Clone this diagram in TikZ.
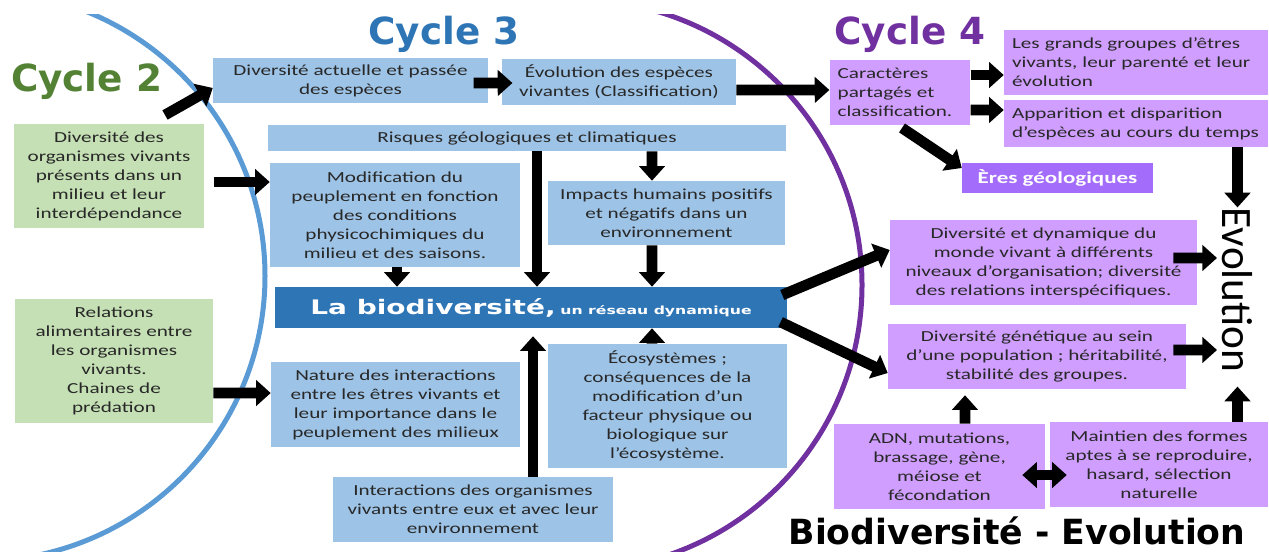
\documentclass[tikz,border=0pt]{standalone}
\usepackage{fontspec}
\setmainfont{Carlito}[FakeStretch=1.38]
\newfontfamily\titre{DejaVu Sans}
\newfontfamily\titrelarge{DejaVu Sans}[FakeStretch=1.4]
\newfontfamily\evolfont{Carlito}
\usepackage{tikz}
\usetikzlibrary{shapes,arrows,arrows.meta,positioning}
\definecolor{bleuclair}{RGB}{157,195,230}
\definecolor{bleufonce}{RGB}{46,117,182}
\definecolor{bleuarc}{RGB}{91,155,213}
\definecolor{vertclair}{RGB}{197,224,180}
\definecolor{vertfonce}{RGB}{84,130,53}
\definecolor{violetclair}{RGB}{207,158,255}
\definecolor{violetmoyen}{RGB}{163,108,250}
\definecolor{violetfonce}{RGB}{112,48,160}
\definecolor{texte}{RGB}{40,40,40}
\tikzstyle{boite} = [inner sep=0pt, align=center, text=texte, font=\fontsize{11.5}{14.25}\selectfont]
\tikzstyle{boitebleue} = [boite, fill=bleuclair]
\tikzstyle{boiteverte} = [boite, fill=vertclair]
\tikzstyle{boiteviolette} = [boite, fill=violetclair]
\tikzstyle{boitegauche} = [boiteviolette, align=left, inner xsep=6pt]
\tikzstyle{titrecycle} = [anchor=base, inner sep=0pt, font=\titre\bfseries\fontsize{28}{32}\selectfont]
\tikzstyle{fleche} = [line width=8pt, -{Triangle[length=11pt,width=19pt]}]
\tikzstyle{doublefleche} = [line width=8pt, {Triangle[length=11pt,width=19pt]}-{Triangle[length=11pt,width=19pt]}]

\begin{document}
\begin{tikzpicture}[x=0.75pt, y=-0.75pt]
					\useasboundingbox (0,0) rectangle (1269,552);
					\begin{scope}
						\clip (0,15) rectangle (1269,552);
						\draw[bleuarc, line width=3.75pt] (-20,276) circle (285);
					\end{scope}
					\begin{scope}
						\clip (577,15) rectangle (1269,552);
						\draw[violetfonce, line width=3.75pt] (577,285) circle (285);
					\end{scope}
					\node[titrecycle, text=vertfonce] (cycledeux) at (86.5,92) {Cycle 2};
					\node[titrecycle, text=bleufonce] (cycletrois) at (444,45) {Cycle 3};
					\node[titrecycle, text=violetfonce] (cyclequatre) at (910,45) {Cycle 4};
					\node[anchor=base, inner sep=0pt, font=\titre\bfseries\fontsize{26}{30}\selectfont] (bioevol) at (1017,544) {Biodiversité - Evolution};
					\node[rotate=-90, anchor=south, inner sep=0pt, font=\evolfont\fontsize{32.5}{34}\selectfont] (evol) at (1222,290) {Evolution};
					\node[boiteverte, minimum width=142.5pt, minimum height=78pt] (divorg) at (109,176) {Diversité des\\organismes vivants\\présents dans un\\milieu et leur\\interdépendance};
					\node[boiteverte, minimum width=148.5pt, minimum height=93pt] (relations) at (114,361) {Relations\\alimentaires entre\\les organismes\\vivants.\\Chaines de\\prédation};
					\node[boitebleue, minimum width=206.25pt, minimum height=33.75pt] (diversite) at (350.5,80.5) {Diversité actuelle et passée\\des espèces};
					\node[boitebleue, minimum width=175.5pt, minimum height=34.5pt] (evolution) at (619,82) {Évolution des espèces\\vivantes (Classification)};
					\node[boitebleue, minimum width=388.5pt, minimum height=19.5pt] (risques) at (527,138) {Risques géologiques et climatiques};
					\node[boitebleue, minimum width=187.5pt, minimum height=78pt] (modification) at (395,215) {Modification du\\peuplement en fonction\\des conditions\\physicochimiques du\\milieu et des saisons.};
					\node[boitebleue, minimum width=177.75pt, minimum height=48pt] (impacts) at (666.5,213) {Impacts humains positifs\\et négatifs dans un\\environnement};
					\node[boite, fill=bleufonce, text=white, minimum width=384pt, minimum height=30.75pt] (bio) at (531,307.5) {{\titrelarge\bfseries\fontsize{15}{17}\selectfont La biodiversité,} {\titrelarge\bfseries\fontsize{8.4}{10}\selectfont un réseau dynamique}};
					\node[boitebleue, minimum width=186.75pt, minimum height=63.75pt] (nature) at (395.5,404.5) {Nature des interactions\\entre les êtres vivants et\\leur importance dans le\\peuplement des milieux};
					\node[boitebleue, minimum width=210pt, minimum height=48.75pt] (interactions) at (473,509.5) {Interactions des organismes\\vivants entre eux et avec leur\\environnement};
					\node[boitebleue, minimum width=179.25pt, minimum height=93pt] (ecosystemes) at (667.5,406) {Écosystèmes ;\\conséquences de la\\modification d’un\\facteur physique ou\\biologique sur\\l’écosystème.};
					\node[boitegauche, text width=93.5pt, minimum height=48.75pt] (caracteres) at (900,92.5) {Caractères\\partagés et\\classification.};
					\node[boitegauche, text width=186pt, minimum height=48.75pt] (groupes) at (1136,62.5) {Les grands groupes d’êtres\\vivants, leur parenté et leur\\évolution};
					\node[boitegauche, text width=186pt, minimum height=35.25pt] (apparition) at (1136,123.5) {Apparition et disparition\\d’espèces au cours du temps};
					\node[boite, fill=violetmoyen, text=white, minimum width=143.25pt, minimum height=22.5pt, font=\bfseries\fontsize{12.5}{14}\selectfont] (eres) at (1057.5,178) {Ères géologiques};
					\node[boiteviolette, minimum width=230.25pt, minimum height=63.75pt] (dynamique) at (1043.5,262.5) {Diversité et dynamique du\\monde vivant à différents\\niveaux d’organisation; diversité\\des relations interspécifiques.};
					\node[boiteviolette, minimum width=223.5pt, minimum height=48.75pt] (genetique) at (1037,356.5) {Diversité génétique au sein\\d’une population ; héritabilité,\\stabilité des groupes.};
					\node[boiteviolette, minimum width=158.25pt, minimum height=63.75pt] (adn) at (939.5,466.5) {ADN, mutations,\\brassage, gène,\\méiose et\\fécondation};
					\node[boiteviolette, minimum width=163.5pt, minimum height=63.75pt] (maintien) at (1159,464.5) {Maintien des formes\\aptes à se reproduire,\\hasard, sélection\\naturelle};
					\coordinate (depart) at (165,115);
					\draw[fleche] (depart) -- ([yshift=-5.6pt]diversite.west);
					\draw[fleche] ([xshift=7pt,yshift=-4.5pt]divorg.east) -- ([yshift=24.75pt]modification.west);
					\draw[fleche] ([yshift=-24pt]relations.east) -- ([yshift=8.6pt]nature.west);
					\draw[fleche] ([xshift=-11pt,yshift=-1.9pt]diversite.east) -- ([xshift=8pt,yshift=-0.75pt]evolution.west);
					\draw[fleche] ([yshift=-6pt]evolution.east) -- ([yshift=1.9pt]caracteres.west);
					\draw[fleche] ([xshift=7.5pt]risques.south) -- ([xshift=4.5pt]bio.north);
					\draw[fleche] ([xshift=93.75pt]risques.south) -- ([xshift=-10.9pt]impacts.north);
					\draw[fleche] ([xshift=-10.9pt]impacts.south) -- ([xshift=90.75pt]bio.north);
					\draw[fleche] ([xshift=1.5pt]modification.south) -- ([xshift=-100.5pt]bio.north);
					\draw[fleche] ([xshift=45pt]interactions.north) -- ([xshift=1.5pt,yshift=-6pt]bio.south);
					\draw[fleche] ([xshift=-11.6pt]ecosystemes.north) -- ([xshift=90.75pt]bio.south);
					\draw[fleche] ([xshift=-3.75pt,yshift=9.4pt]bio.east) -- ([yshift=9.4pt]dynamique.west);
					\draw[fleche] ([xshift=-5pt,yshift=-10.9pt]bio.east) -- ([yshift=-12.4pt]genetique.west);
					\draw[fleche] ([yshift=13.1pt]caracteres.east) -- ([yshift=-9.4pt]groupes.west);
					\draw[fleche] ([yshift=-13.1pt]caracteres.east) -- ([yshift=10.1pt]apparition.west);
					\draw[fleche] ([xshift=1.5pt,yshift=-2pt]caracteres.south) -- ([yshift=7.5pt]eres.west);
					\draw[fleche] (apparition.south -| evol.west) -- (evol.west);
					\draw[fleche] ([xshift=-18pt,yshift=3.4pt]dynamique.east) -- ([xshift=-3.75pt,yshift=24pt]evol.south);
					\draw[fleche] ([xshift=-9.75pt,yshift=4.9pt]genetique.east) -- ([xshift=-3.75pt,yshift=-45pt]evol.south);
					\draw[fleche] ([xshift=19.1pt]adn.north) -- ([xshift=-54pt,yshift=-4.5pt]genetique.south);
					\draw[fleche] (maintien.north -| evol.east) -- ([yshift=-10.5pt]evol.east);
					\draw[doublefleche] ([xshift=-17.25pt,yshift=-6.4pt]adn.east) -- ([xshift=12.75pt,yshift=-7.9pt]maintien.west);
\end{tikzpicture}
\end{document}
